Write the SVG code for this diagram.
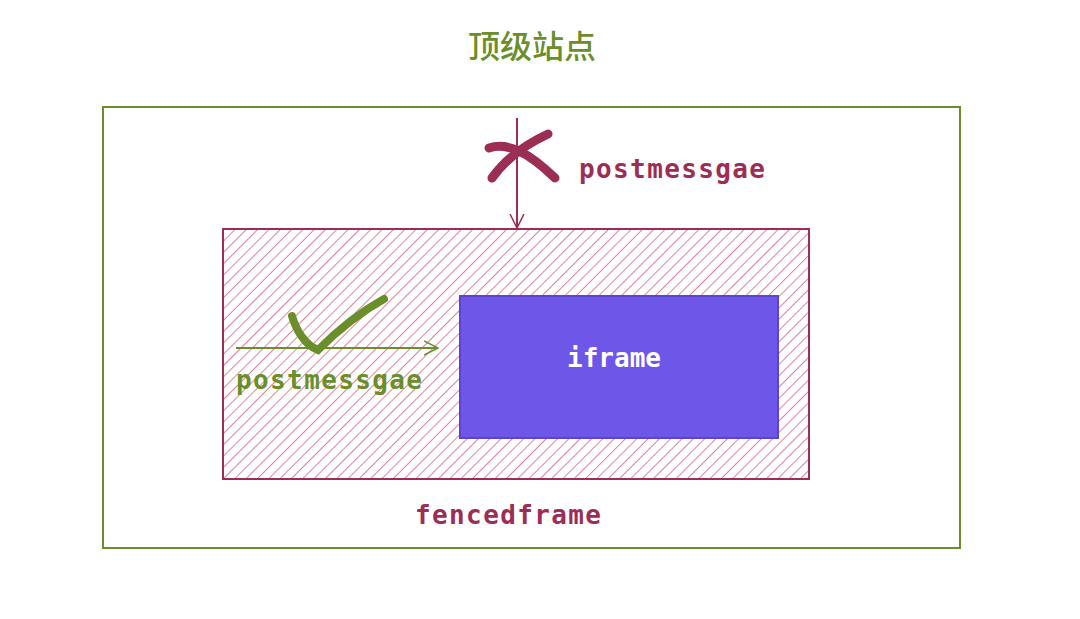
<svg xmlns="http://www.w3.org/2000/svg" width="1080" height="619" viewBox="0 0 1080 619">
<defs>
<pattern id="hatch" width="8" height="8" patternUnits="userSpaceOnUse" patternTransform="rotate(45)">
<line x1="0" y1="0" x2="0" y2="8" stroke="#d25a7a" stroke-width="1.5"/>
</pattern>
<marker id="ar" markerWidth="16" markerHeight="16" refX="14" refY="8" orient="auto" markerUnits="userSpaceOnUse">
<path d="M0,1 L14,8 L0,15" fill="none" stroke="context-stroke" stroke-width="1.5"/>
</marker>
<style>
.m{font-family:"DejaVu Sans Mono","Liberation Mono",monospace;font-size:26px;font-weight:bold}
</style>
</defs>
<rect width="1080" height="619" fill="#fff"/>
<g id="title"><text x="532" y="58" text-anchor="middle" font-family="'Noto Sans CJK SC',sans-serif" font-size="32" font-weight="500" fill="#6a8f2a">顶级站点</text></g>
<g id="top-site"><rect x="103" y="107" width="857" height="441" fill="none" stroke="#6a8f2a" stroke-width="2"/></g>
<g id="fencedframe">
<rect x="223" y="229" width="586" height="250" fill="url(#hatch)" stroke="#9c2d54" stroke-width="2"/>
<text class="m" x="415" y="524" textLength="186" fill="#9c2d54">fencedframe</text>
</g>
<g id="iframe">
<rect x="460" y="296" width="318" height="142" fill="#6e56e8" stroke="#5a44d0" stroke-width="2"/>
<text class="m" x="614" y="367" text-anchor="middle" fill="#fff">iframe</text>
</g>
<g id="connectors">
<line x1="517" y1="118" x2="517" y2="228" stroke="#9c2d54" stroke-width="2" marker-end="url(#ar)"/>
<line x1="236" y1="348" x2="438" y2="348" stroke="#6a8f2a" stroke-width="2" marker-end="url(#ar)"/>
</g>
<g id="labels">
<path d="M489,148 C508,142 528,152 555,178 M492,178 C505,160 522,146 548,134" fill="none" stroke="#9c2d54" stroke-width="9" stroke-linecap="round"/>
<text class="m" x="579" y="178" textLength="186" fill="#9c2d54">postmessgae</text>
<path d="M292,316 C296,330 305,345 318,350 C335,333 355,315 384,299" fill="none" stroke="#6a8f2a" stroke-width="8" stroke-linecap="round"/>
<text class="m" x="236" y="389" textLength="186" fill="#6a8f2a">postmessgae</text>
</g>
</svg>
